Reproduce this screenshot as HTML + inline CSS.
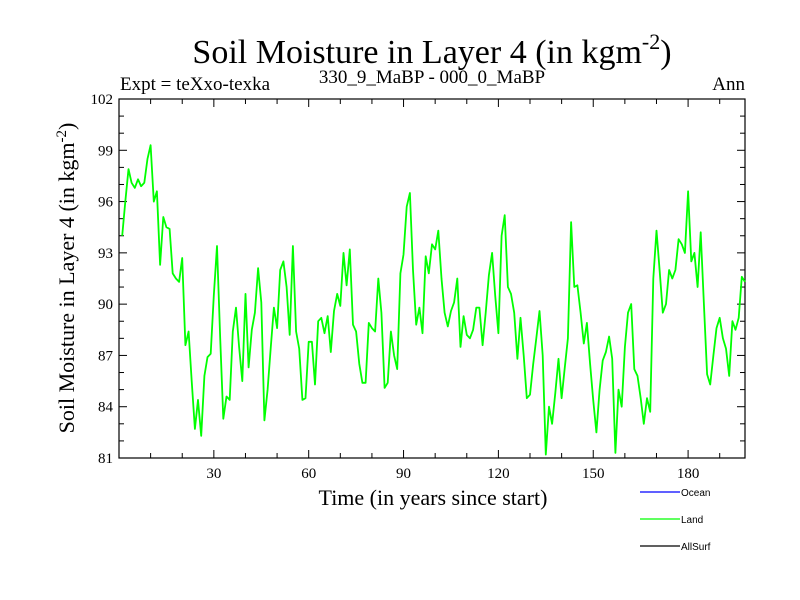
<!DOCTYPE html>
<html><head><meta charset="utf-8"><style>
body{margin:0;background:#fff}
svg{display:block;font-family:"Liberation Serif",serif}
</style></head><body>
<svg id="chart" width="800" height="600" viewBox="0 0 800 600">
<text x="432" y="63" font-size="34" text-anchor="middle">Soil Moisture in Layer 4 (in kgm<tspan dy="-14" font-size="22">-2</tspan><tspan dy="14">)</tspan></text>
<text x="120" y="90" font-size="19">Expt = teXxo-texka</text>
<text x="432" y="83" font-size="19" text-anchor="middle">330_9_MaBP - 000_0_MaBP</text>
<text x="745" y="90" font-size="19" text-anchor="end">Ann</text>
<text x="433" y="505" font-size="22" text-anchor="middle">Time (in years since start)</text>
<text transform="translate(74,278) rotate(-90)" font-size="22" text-anchor="middle">Soil Moisture in Layer 4 (in kgm<tspan dy="-8" font-size="15">-2</tspan><tspan dy="8">)</tspan></text>
<g id="axes"></g>
<g id="series"></g>
<g id="legend" font-family="Liberation Sans, sans-serif" font-size="10">
<line x1="640" y1="492" x2="680" y2="492" stroke="#0000ff" stroke-width="1.2"/>
<text x="681" y="496">Ocean</text>
<line x1="640" y1="519" x2="680" y2="519" stroke="#00ff00" stroke-width="1.2"/>
<text x="681" y="523">Land</text>
<line x1="640" y1="546" x2="680" y2="546" stroke="#000" stroke-width="1.2"/>
<text x="681" y="550">AllSurf</text>
</g>
</svg>
<script>
const yTicks=[81,84,87,90,93,96,99,102];
const xTicks=[30,60,90,120,150,180];
const landValues=[94.0,96.0,97.9,97.1,96.8,97.3,96.9,97.1,98.5,99.3,96.0,96.6,92.3,95.1,94.5,94.4,91.8,91.5,91.3,92.7,
87.6,88.4,85.5,82.7,84.4,82.3,85.8,86.9,87.1,90.5,93.4,88.0,83.3,84.6,84.4,88.4,89.8,87.5,85.5,90.6,
86.3,88.5,89.5,92.1,90.1,83.2,85.0,87.5,89.8,88.6,92.0,92.5,91.0,88.2,93.4,88.4,87.4,84.4,84.5,87.8,
87.8,85.3,89.0,89.2,88.3,89.3,87.2,89.6,90.6,89.9,93.0,91.1,93.2,88.8,88.4,86.5,85.4,85.4,88.9,88.6,
88.4,91.5,89.5,85.1,85.4,88.4,87.0,86.2,91.8,92.9,95.7,96.5,92.0,88.8,89.8,88.3,92.8,91.8,93.5,93.2,
94.3,91.5,89.5,88.7,89.6,90.1,91.5,87.5,89.3,88.2,88.0,88.5,89.8,89.8,87.6,89.5,91.7,93.0,90.5,88.3,
94.0,95.2,91.0,90.6,89.5,86.8,89.2,87.0,84.5,84.7,86.5,88.0,89.6,87.0,81.2,84.0,83.0,84.8,86.8,84.5,
86.3,88.0,94.8,91.0,91.1,89.5,87.7,88.9,86.5,84.4,82.5,85.0,86.7,87.2,88.1,86.8,81.3,85.0,84.0,87.5,
89.5,90.0,86.2,85.8,84.5,83.0,84.5,83.7,91.5,94.3,92.0,89.5,90.0,92.0,91.5,92.0,93.8,93.5,93.0,96.6,
92.5,93.0,91.0,94.2,90.0,85.9,85.3,87.0,88.6,89.2,88.0,87.4,85.8,89.0,88.5,89.2,91.6,91.3];
const L=119,R=745,T=99,B=458,X0=0,X1=198,Y0=81,Y1=102;
const sx=v=>L+(v-X0)/(X1-X0)*(R-L);
const sy=v=>B-(v-Y0)/(Y1-Y0)*(B-T);
const NS="http://www.w3.org/2000/svg";
function mk(t,a,p){const e=document.createElementNS(NS,t);for(const k in a)e.setAttribute(k,a[k]);p.appendChild(e);return e;}
const ax=document.getElementById('axes');
const frame=mk('rect',{x:L,y:T,width:R-L,height:B-T,fill:'none',stroke:'#000','stroke-width':1.2},ax);


for(let v=Y0;v<=Y1;v+=1){const y=sy(v);const len=(v%3===0)?8:5;
mk('line',{x1:L,y1:y,x2:L+len,y2:y,stroke:'#000'},ax);mk('line',{x1:R,y1:y,x2:R-len,y2:y,stroke:'#000'},ax);}
yTicks.forEach(v=>{const t=mk('text',{x:L-6,y:sy(v)+5,'font-size':15,'text-anchor':'end'},ax);t.textContent=v;

});
for(let v=10;v<X1;v+=10){const x=sx(v);const len=(v%30===0)?8:5;
mk('line',{x1:x,y1:B,x2:x,y2:B-len,stroke:'#000'},ax);mk('line',{x1:x,y1:T,x2:x,y2:T+len,stroke:'#000'},ax);}
xTicks.forEach(v=>{const t=mk('text',{x:sx(v),y:B+20,'font-size':15,'text-anchor':'middle'},ax);t.textContent=v;

});
const pts=landValues.map((v,i)=>sx(i+1).toFixed(1)+','+sy(v).toFixed(1)).join(' ');
const line=mk('polyline',{points:pts,fill:'none',stroke:'#00ff00','stroke-width':1.8,'stroke-linejoin':'round'},document.getElementById('series'));


</script>
</body></html>
